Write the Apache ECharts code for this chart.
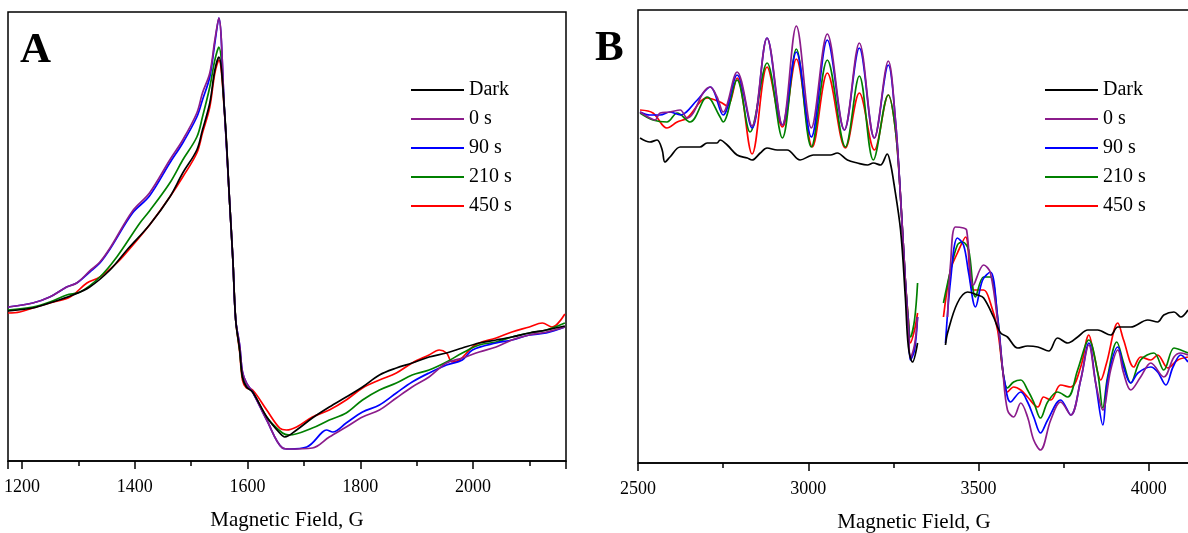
<!DOCTYPE html>
<html>
<head>
<meta charset="utf-8">
<script src="https://cdn.jsdelivr.net/npm/echarts@6/dist/echarts.min.js"></script>
<style>
  html, body { margin: 0; padding: 0; background: #fff; }
  #main { width: 1188px; height: 533px; }
</style>
</head>
<body>
<div id="main"></div>
<script>
// EPR spectra, [field G, intensity a.u.]
const seriesNames = ["Dark", "0 s", "90 s", "210 s", "450 s"];
const seriesColors = ["#000000", "#8B1C8B", "#0000FF", "#008000", "#FF0000"];

// panel A
const darkA = [[1175,150],[1219,153],[1249,158],[1290,166],[1320,174],[1356,191],[1386,211],[1426,236],[1462,264],[1485,288],[1510,311],[1520,331],[1533,358],[1542,391],[1549,404],[1559,351],[1568,261],[1574,201],[1579,141],[1586,111],[1591,84],[1598,74],[1609,69],[1634,44],[1657,28],[1666,24],[1687,31],[1715,43],[1745,54],[1775,64],[1804,74],[1834,86],[1864,93],[1892,98],[1922,104],[1953,108],[1981,113],[2011,118],[2041,121],[2069,124],[2100,128],[2130,131],[2163,135]];
const t0A = [[1175,154],[1219,158],[1249,164],[1279,174],[1297,178],[1320,190],[1338,199],[1356,213],[1396,250],[1426,268],[1462,301],[1485,321],[1510,348],[1520,368],[1533,388],[1542,421],[1549,443],[1559,351],[1568,261],[1574,201],[1579,141],[1586,116],[1591,89],[1598,78],[1609,69],[1634,41],[1662,13],[1674,12],[1715,13],[1745,24],[1775,34],[1804,44],[1834,51],[1864,63],[1892,74],[1922,84],[1953,98],[1981,103],[2011,109],[2041,114],[2069,121],[2100,126],[2130,129],[2163,134]];
const t90A = [[1175,154],[1219,158],[1249,164],[1279,174],[1297,178],[1320,189],[1338,198],[1356,212],[1396,248],[1426,265],[1462,298],[1485,318],[1510,344],[1520,361],[1533,384],[1542,418],[1549,443],[1559,351],[1568,261],[1574,201],[1579,141],[1586,116],[1591,89],[1598,78],[1609,69],[1634,41],[1662,13],[1674,12],[1705,14],[1733,29],[1740,31],[1751,29],[1775,38],[1804,49],[1834,56],[1864,68],[1892,79],[1922,88],[1953,96],[1981,101],[1999,111],[2041,118],[2069,121],[2100,126],[2130,128],[2163,134]];
const t210A = [[1175,151],[1219,154],[1249,159],[1279,166],[1303,169],[1338,184],[1368,204],[1409,238],[1426,250],[1462,278],[1485,301],[1510,324],[1520,344],[1533,374],[1542,401],[1549,414],[1559,351],[1568,261],[1574,201],[1579,141],[1586,111],[1591,84],[1598,75],[1609,69],[1634,44],[1662,28],[1674,26],[1715,33],[1745,41],[1775,48],[1804,61],[1834,71],[1864,78],[1892,86],[1922,91],[1953,99],[1981,108],[2011,116],[2041,119],[2069,124],[2100,128],[2130,131],[2163,138]];
const t450A = [[1175,148],[1196,149],[1219,153],[1249,158],[1285,164],[1315,178],[1338,184],[1368,198],[1386,209],[1426,236],[1462,264],[1485,284],[1510,308],[1520,328],[1533,354],[1542,388],[1549,401],[1559,349],[1568,261],[1574,201],[1579,141],[1586,109],[1591,81],[1598,73],[1609,71],[1634,51],[1657,33],[1669,31],[1687,34],[1715,44],[1745,51],[1775,61],[1804,73],[1834,81],[1864,88],[1892,98],[1922,106],[1940,111],[1953,108],[1963,99],[1976,101],[1999,114],[2011,118],[2041,123],[2069,129],[2100,134],[2123,138],[2140,134],[2163,147]];

// panel B (null = no data between the two scans)
const darkB = [[2506,325],[2535,321],[2556,323],[2571,313],[2579,301],[2594,306],[2624,316],[2653,316],[2682,316],[2703,320],[2732,320],[2741,323],[2762,318],[2791,308],[2821,305],[2835,303],[2859,310],[2879,315],[2909,313],[2938,313],[2976,303],[3015,308],[3065,308],[3085,310],[3115,303],[3144,300],[3174,298],[3191,300],[3212,298],[3232,309],[3241,300],[3250,283],[3271,233],[3285,166],[3294,116],[3306,101],[3321,120],[3360,null],[3403,118],[3409,130],[3438,160],[3468,171],[3497,168],[3515,165],[3544,146],[3565,130],[3585,126],[3615,115],[3644,117],[3674,116],[3706,112],[3732,125],[3762,120],[3791,126],[3821,133],[3850,133],[3888,128],[3909,136],[3947,136],[3997,143],[4026,141],[4044,148],[4074,151],[4094,146],[4115,153]];
const t0B = [[2506,351],[2535,345],[2550,343],[2565,350],[2594,351],[2624,353],[2644,345],[2662,350],[2691,370],[2712,376],[2732,366],[2750,351],[2791,391],[2835,337],[2879,425],[2924,338],[2965,437],[3009,335],[3056,429],[3106,333],[3150,420],[3194,325],[3235,402],[3256,343],[3271,266],[3285,183],[3294,136],[3300,105],[3312,118],[3321,146],[3360,null],[3409,146],[3418,200],[3432,236],[3456,235],[3465,233],[3485,178],[3515,198],[3535,190],[3559,133],[3571,93],[3585,53],[3603,46],[3624,60],[3644,46],[3662,23],[3682,13],[3712,43],[3741,61],[3771,48],[3800,83],[3824,118],[3844,80],[3865,53],[3888,93],[3909,113],[3926,90],[3947,73],[3976,86],[4006,100],[4044,86],[4074,106],[4094,110],[4115,108]];
const t90B = [[2506,351],[2535,348],[2565,348],[2594,351],[2624,348],[2674,363],[2712,376],[2750,348],[2791,388],[2835,335],[2879,425],[2924,338],[2965,411],[3009,326],[3056,423],[3106,333],[3150,415],[3194,325],[3235,398],[3256,343],[3271,266],[3285,183],[3294,136],[3300,103],[3312,113],[3321,146],[3360,null],[3403,120],[3418,183],[3438,225],[3456,218],[3471,190],[3491,156],[3512,183],[3535,191],[3556,146],[3571,93],[3574,86],[3594,61],[3624,71],[3644,61],[3662,46],[3682,30],[3703,43],[3741,63],[3771,48],[3800,83],[3824,120],[3844,80],[3865,38],[3879,83],[3909,116],[3926,96],[3947,80],[3968,90],[4006,96],[4026,91],[4050,78],[4071,96],[4094,108],[4115,101]];
const t210B = [[2506,350],[2544,343],[2585,341],[2615,350],[2653,341],[2703,366],[2741,346],[2750,341],[2791,383],[2829,331],[2879,400],[2924,325],[2965,414],[3009,316],[3056,403],[3109,316],[3150,387],[3191,303],[3235,368],[3256,333],[3271,266],[3285,183],[3294,143],[3300,126],[3312,143],[3321,180],[3360,null],[3397,160],[3418,193],[3438,218],[3453,221],[3471,213],[3491,166],[3515,186],[3535,186],[3556,146],[3571,93],[3585,75],[3603,81],[3624,83],[3644,73],[3662,61],[3682,45],[3703,61],[3732,71],[3762,66],[3791,93],[3824,123],[3850,90],[3865,55],[3879,86],[3906,121],[3926,100],[3947,80],[3976,103],[4015,110],[4044,93],[4074,115],[4094,113],[4115,110]];
const t450B = [[2506,353],[2544,350],[2585,335],[2615,341],[2644,345],[2703,365],[2741,361],[2762,357],[2791,385],[2835,309],[2879,396],[2924,336],[2965,404],[3012,316],[3056,390],[3109,315],[3150,370],[3194,313],[3235,368],[3256,333],[3271,266],[3285,183],[3294,143],[3300,120],[3312,133],[3321,150],[3360,null],[3397,146],[3418,193],[3438,210],[3462,226],[3485,173],[3515,173],[3535,160],[3556,133],[3571,93],[3585,71],[3603,76],[3624,73],[3644,66],[3674,56],[3691,66],[3712,63],[3741,78],[3771,76],[3800,96],[3824,128],[3838,110],[3859,83],[3876,100],[3909,140],[3926,123],[3956,96],[3976,106],[4006,103],[4026,108],[4056,95],[4085,103],[4115,106]];

const panelA = [darkA, t0A, t90A, t210A, t450A];
const panelB = [darkB, t0B, t90B, t210B, t450B];

const serif = "Liberation Serif";

function xAxisConfig(gridIndex, min, max, splitNumber, showMin) {
  return {
    type: "value",
    gridIndex: gridIndex,
    min: min,
    max: max,
    splitNumber: splitNumber,
    name: "Magnetic Field, G",
    nameLocation: "middle",
    nameGap: 49,
    nameTextStyle: { fontFamily: serif, fontSize: 21, color: "#000" },
    axisLine: { lineStyle: { color: "#000", width: 1.5 } },
    axisTick: { length: 8, lineStyle: { color: "#000", width: 1.5 } },
    minorTick: { show: true, splitNumber: 2, length: 5, lineStyle: { color: "#000", width: 1.5 } },
    axisLabel: {
      fontFamily: serif, fontSize: 18, color: "#000", margin: 17,
      showMinLabel: showMin, showMaxLabel: false,
      formatter: function (v) { return String(v); }
    },
    splitLine: { show: false }
  };
}

function yAxisConfig(gridIndex, max) {
  return {
    type: "value",
    gridIndex: gridIndex,
    min: 0,
    max: max,
    axisLine: { show: false },
    axisTick: { show: false },
    axisLabel: { show: false },
    splitLine: { show: false }
  };
}

function toData(pairs) {
  return pairs.map(function (p) { return p[1] === null ? [p[0], "-"] : p; });
}

function legendConfig(left) {
  return {
    data: seriesNames,
    orient: "vertical",
    left: left,
    top: 80,
    padding: 0,
    icon: "rect",
    itemWidth: 53,
    itemHeight: 2,
    itemGap: 9,
    textStyle: { fontFamily: serif, fontSize: 20, color: "#000" }
  };
}

const series = [];
[panelA, panelB].forEach(function (panel, pi) {
  panel.forEach(function (pairs, i) {
    series.push({
      type: "line",
      name: seriesNames[i],
      xAxisIndex: pi,
      yAxisIndex: pi,
      data: toData(pairs),
      smooth: 0.35,
      symbol: "none",
      connectNulls: false,
      z: 10 - i,
      lineStyle: { color: seriesColors[i], width: 1.7 },
      itemStyle: { color: seriesColors[i] }
    });
  });
});

const options = {
  animation: false,
  backgroundColor: "#fff",
  title: [
    { text: "A", left: 15, top: 24, textStyle: { fontFamily: serif, fontSize: 43, fontWeight: "bold", color: "#000" } },
    { text: "B", left: 590, top: 22, textStyle: { fontFamily: serif, fontSize: 43, fontWeight: "bold", color: "#000" } }
  ],
  legend: [legendConfig(411), legendConfig(1045)],
  grid: [
    { left: 8, top: 12, width: 558, height: 449, show: true, borderColor: "#000", borderWidth: 1.5, outerBoundsMode: "none" },
    { left: 638, top: 10, width: 552, height: 453, show: true, borderColor: "#000", borderWidth: 1.5, outerBoundsMode: "none" }
  ],
  xAxis: [xAxisConfig(0, 1175, 2165, 5, false), xAxisConfig(1, 2500, 4121, 3, true)],
  yAxis: [yAxisConfig(0, 449), yAxisConfig(1, 453)],
  series: series
};

var myChart = echarts.init(document.getElementById("main"));
myChart.setOption(options);
window.onresize = function () {
  myChart.resize();
};
</script>
</body>
</html>
